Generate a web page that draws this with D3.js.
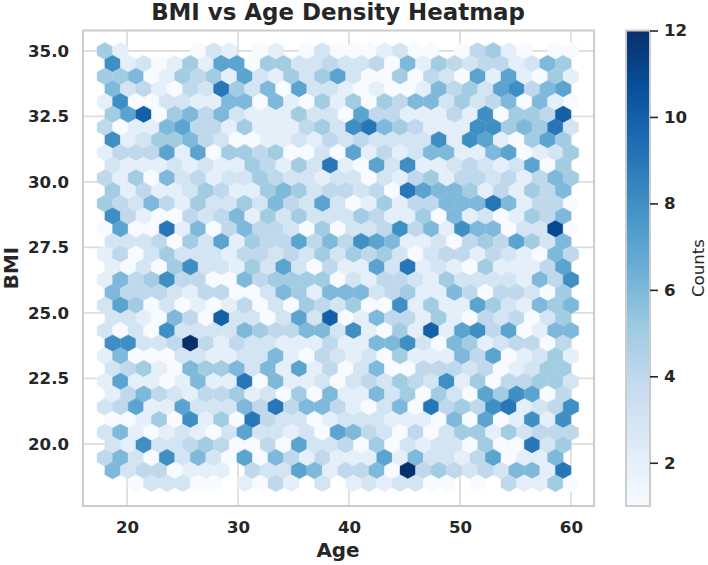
<!DOCTYPE html>
<html>
<head>
<meta charset="utf-8">
<script src="https://cdn.jsdelivr.net/npm/d3@7"></script>
<style>
html, body { margin: 0; padding: 0; background: #fff; }
svg { display: block; }
text { font-family: "DejaVu Sans", sans-serif; fill: #262626; }
</style>
</head>
<body>
<svg id="chart" width="708" height="565"></svg>
<script>
// Hexagon counts, top row (BMI 35) downwards; even rows hold 31 cells, odd rows 30.
const rowCounts = [
  [5,2,0,0,0,0,1,3,2,0,1,2,0,1,3,1,1,1,2,3,1,1,0,1,4,5,2,1,0,1,1],
  [8,2,3,1,2,5,2,7,7,1,5,5,3,3,4,3,3,4,1,6,2,5,4,3,4,4,2,3,6,5],
  [5,5,6,1,2,5,4,5,2,7,3,2,5,3,5,7,3,1,1,5,1,4,3,1,7,2,7,2,1,5,2],
  [6,3,4,2,1,4,3,9,5,3,6,1,7,3,3,2,1,2,1,1,2,6,4,5,3,7,8,4,6,7],
  [2,8,1,1,3,3,2,2,6,6,1,6,2,1,5,2,5,1,5,4,6,6,3,5,3,4,6,1,6,2,1],
  [5,7,10,1,5,6,4,6,3,2,2,2,5,3,3,1,7,4,4,2,2,2,4,2,8,1,5,5,4,10],
  [4,1,2,2,6,7,4,4,2,5,2,2,2,4,5,3,8,9,6,5,4,2,2,2,8,8,5,6,5,9,3],
  [8,2,3,5,5,6,4,3,1,1,2,2,3,2,4,3,4,3,3,3,3,8,2,8,7,2,1,5,7,5],
  [2,4,4,4,7,2,7,1,5,5,4,5,1,1,3,1,7,2,4,2,3,6,6,2,2,6,7,1,2,3,5],
  [3,2,2,2,3,2,3,2,2,5,4,2,5,3,9,2,1,7,3,8,2,2,3,4,3,2,3,7,1,5],
  [4,2,5,1,6,3,4,2,3,3,5,4,3,3,2,3,3,1,3,2,4,5,2,4,4,3,4,2,4,6,5],
  [5,2,4,2,2,3,5,4,2,2,5,6,5,3,4,4,3,4,1,9,7,6,6,5,2,4,2,5,4,6],
  [5,4,3,6,4,2,5,3,3,5,3,6,4,3,7,3,1,2,5,2,4,4,6,6,6,9,6,2,4,4,1],
  [8,4,2,1,1,4,3,4,6,2,5,3,5,3,3,3,5,4,2,2,5,1,6,2,3,1,2,5,4,6],
  [1,7,1,1,9,2,6,1,4,6,4,4,3,1,5,1,3,3,4,8,4,6,2,8,6,6,1,3,3,11,1],
  [3,3,3,4,1,5,3,7,2,5,4,4,7,4,6,4,8,7,6,2,2,3,1,4,5,4,7,5,3,6],
  [2,4,1,3,5,3,3,3,2,4,4,3,4,3,5,3,5,4,5,3,1,3,4,4,2,4,3,2,1,6,4],
  [2,1,3,1,5,8,3,3,2,5,3,7,3,1,4,2,2,7,3,9,2,3,2,1,5,2,2,2,4,7],
  [2,6,4,5,8,4,4,1,1,6,4,5,5,5,5,1,3,2,4,4,3,2,5,3,3,3,3,2,6,4,8],
  [6,4,4,4,3,2,4,4,1,1,3,6,5,2,6,6,6,3,4,5,2,2,6,4,1,4,4,3,1,5],
  [3,7,5,1,3,1,2,1,2,4,1,3,1,5,4,3,5,1,1,8,2,5,2,2,7,5,3,2,6,5,6],
  [3,3,2,1,6,4,1,10,3,3,1,3,7,3,10,1,2,6,4,4,2,5,2,1,4,3,4,1,3,5],
  [3,1,3,1,8,3,3,3,3,6,5,4,4,6,6,3,8,2,1,5,2,10,2,7,8,4,7,1,2,6,6],
  [8,8,3,3,4,12,4,2,4,3,3,2,2,2,4,2,2,6,6,8,3,1,6,5,2,3,4,4,1,4],
  [2,6,1,1,1,3,3,2,2,3,3,6,2,1,4,3,2,3,1,5,2,2,2,6,4,7,1,2,3,5,2],
  [3,4,5,2,1,6,5,5,6,3,6,2,7,2,4,1,3,6,1,1,4,4,4,3,4,1,2,3,5,5],
  [2,7,2,2,1,2,6,2,2,9,1,6,2,2,3,1,3,4,3,5,4,3,8,2,5,1,4,4,5,5,3],
  [2,4,6,4,3,2,4,4,5,2,3,1,5,1,6,2,2,6,3,5,1,5,3,1,7,5,8,7,1,4],
  [3,4,7,2,2,7,3,3,3,6,4,9,4,6,6,4,2,1,3,6,1,9,4,5,4,8,9,2,3,4,8],
  [1,1,2,5,1,8,2,5,1,9,4,3,3,1,2,3,3,3,2,2,2,1,6,1,7,1,2,8,2,8],
  [3,6,2,1,2,3,2,1,3,7,3,3,2,3,1,7,6,4,3,1,4,1,3,5,5,2,5,3,4,4,4],
  [3,2,8,3,3,4,5,4,1,1,4,1,7,3,3,4,1,5,1,3,2,3,3,1,5,1,1,9,3,5],
  [4,6,3,1,8,3,6,3,1,7,1,6,4,2,4,2,2,2,7,2,6,3,3,2,4,7,1,2,2,6,0],
  [6,3,4,4,1,2,2,2,0,4,3,3,7,6,2,4,4,6,1,12,4,5,4,3,4,3,6,6,2,9],
  [0,0,1,3,3,3,1,1,0,2,1,4,2,0,3,0,2,3,2,3,3,1,1,0,1,0,4,2,2,5,1]
];
const ageTicks = [20, 30, 40, 50, 60];
const bmiTicks = [20, 22.5, 25, 27.5, 30, 32.5, 35];
const countTicks = [2, 4, 6, 8, 10, 12];
const ageExtent = [18, 60];
const bmiExtent = [18.5, 35];
const countExtent = [1, 12];
const gridSizeX = 30;
const gridSizeY = 17;

const plot = { left: 83, right: 594, top: 30.5, bottom: 506 };
const bar = { left: 626, right: 650 };
const INK = "#262626", SPINE = "#cccccc", GRID = "#dddddd";

const svg = d3.select("#chart");
const x = d3.scaleLinear().domain([16.03, 62.08]).range([plot.left, plot.right]);
const y = d3.scaleLinear().domain([17.63, 35.78]).range([plot.bottom, plot.top]);

// Piecewise-linear Blues ramp over the count range.
const stops = d3.schemeBlues[9];
const color = d3.scaleLinear()
  .domain(stops.map((_, i) => countExtent[0] + (countExtent[1] - countExtent[0]) * i / (stops.length - 1)))
  .range(stops)
  .interpolate(d3.interpolateRgb);

// Grid
const grid = svg.append("g").attr("stroke", GRID).attr("stroke-width", 1.7);
grid.selectAll(".vg").data(ageTicks).join("line")
  .attr("x1", d => x(d)).attr("x2", d => x(d)).attr("y1", plot.top).attr("y2", plot.bottom);
grid.selectAll(".hg").data(bmiTicks).join("line")
  .attr("y1", d => y(d)).attr("y2", d => y(d)).attr("x1", plot.left).attr("x2", plot.right);

// Hexagonal cells, outlined in data units and projected through the scales.
const sx = (ageExtent[1] - ageExtent[0]) / gridSizeX;
const sy = (bmiExtent[1] - bmiExtent[0]) / gridSizeY;
const corners = [[.5, -1 / 6], [.5, 1 / 6], [0, 1 / 3], [-.5, 1 / 6], [-.5, -1 / 6], [0, -1 / 3]];
const hexLine = d3.line().x(p => x(p[0])).y(p => y(p[1]));
const cells = rowCounts.flatMap((row, r) => row.map((count, i) => ({
  age: ageExtent[0] + (i + (r % 2 ? .5 : 0)) * sx,
  bmi: bmiExtent[1] - r * sy / 2,
  count
}))).filter(d => d.count > 0);

svg.append("g").selectAll("path").data(cells).join("path")
  .attr("d", d => hexLine(corners.map(c => [d.age + c[0] * sx, d.bmi + c[1] * sy])) + "Z")
  .attr("fill", d => color(d.count))
  .attr("stroke", d => color(d.count))
  .attr("stroke-width", 0.4);

// Plot frame
svg.append("rect")
  .attr("x", plot.left).attr("y", plot.top)
  .attr("width", plot.right - plot.left).attr("height", plot.bottom - plot.top)
  .attr("fill", "none").attr("stroke", SPINE).attr("stroke-width", 2);

// Axis tick labels
const xAxis = svg.append("g").attr("transform", `translate(0,${plot.bottom})`)
  .call(d3.axisBottom(x).tickValues(ageTicks).tickSize(0).tickPadding(15).tickFormat(d3.format("d")));
const yAxis = svg.append("g").attr("transform", `translate(${plot.left},0)`)
  .call(d3.axisLeft(y).tickValues(bmiTicks).tickSize(0).tickPadding(14).tickFormat(d3.format(".1f")));
for (const axis of [xAxis, yAxis]) {
  axis.select(".domain").remove();
  axis.selectAll("text")
    .attr("font-family", "DejaVu Sans").attr("font-size", 16.6).attr("font-weight", "bold").attr("fill", INK);
}

// Titles
svg.append("text").attr("x", 338).attr("y", 20).attr("text-anchor", "middle")
  .attr("font-size", 22.9).attr("font-weight", "bold").text("BMI vs Age Density Heatmap");
svg.append("text").attr("x", 338).attr("y", 557).attr("text-anchor", "middle")
  .attr("font-size", 19.9).attr("font-weight", "bold").text("Age");
svg.append("text").attr("transform", "translate(18,268) rotate(-90)").attr("text-anchor", "middle")
  .attr("font-size", 19.9).attr("font-weight", "bold").text("BMI");

// Colour bar
const barScale = d3.scaleLinear().domain(countExtent).range([plot.bottom, plot.top]);
const grad = svg.append("defs").append("linearGradient")
  .attr("id", "countRamp").attr("x1", 0).attr("x2", 0).attr("y1", 1).attr("y2", 0);
grad.selectAll("stop").data(stops).join("stop")
  .attr("offset", (_, i) => i / (stops.length - 1))
  .attr("stop-color", d => d);
svg.append("rect")
  .attr("x", bar.left).attr("y", plot.top)
  .attr("width", bar.right - bar.left).attr("height", plot.bottom - plot.top)
  .attr("fill", "url(#countRamp)").attr("stroke", SPINE).attr("stroke-width", 2);
const barAxis = svg.append("g").attr("transform", `translate(${bar.right},0)`)
  .call(d3.axisRight(barScale).tickValues(countTicks).tickSize(8).tickPadding(6).tickFormat(d3.format("d")));
barAxis.select(".domain").remove();
barAxis.selectAll("line").attr("stroke", INK).attr("stroke-width", 1.6);
barAxis.selectAll("text")
  .attr("font-family", "DejaVu Sans").attr("font-size", 16.6).attr("font-weight", "bold").attr("fill", INK);
svg.append("text").attr("transform", "translate(704,268) rotate(-90)").attr("text-anchor", "middle")
  .attr("font-size", 16.6).attr("fill", "#333").text("Counts");
</script>
</body>
</html>
